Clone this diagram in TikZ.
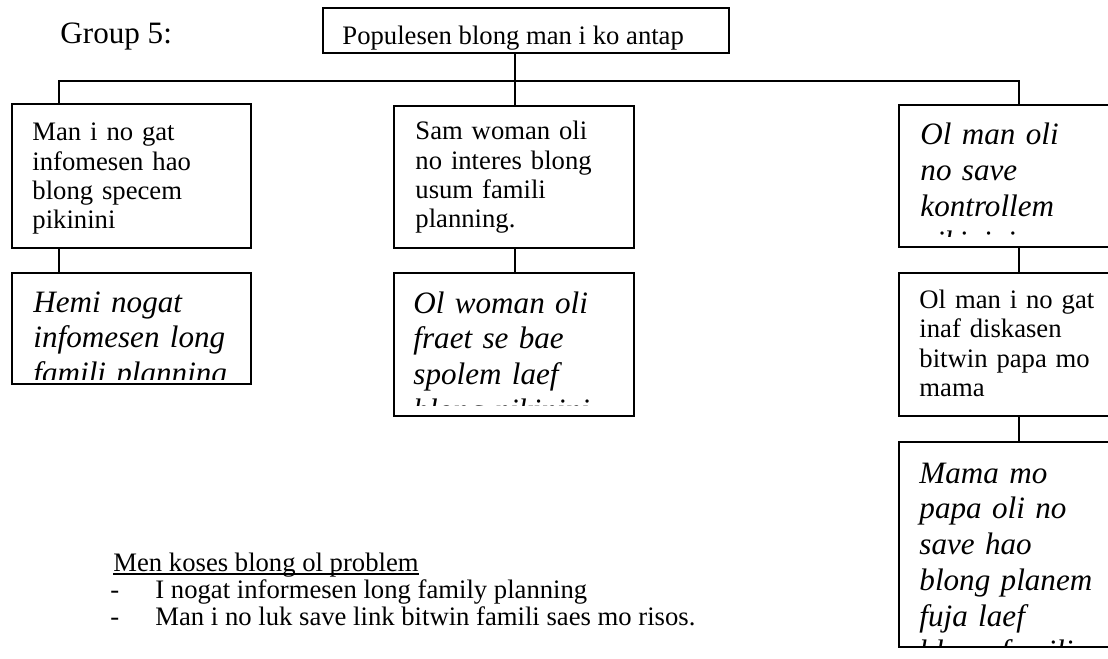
\documentclass[tikz,border=0pt]{standalone}
\usepackage{fontspec}
\setmainfont{Liberation Serif}
\begin{document}
\begin{tikzpicture}[x=0.45pt,y=-0.45pt,
  frame/.style={draw, line width=0.7pt, inner sep=0pt, outer sep=0pt, anchor=north west},
  link/.style={line width=0.7pt},
  plain/.style={anchor=base west, inner sep=0pt, text width=230*0.45pt, align=left,
    font=\fontsize{12}{13.1}\selectfont},
  slant/.style={anchor=base west, inner sep=0pt, text width=230*0.45pt, align=left,
    font=\fontsize{14}{16.1}\selectfont\itshape},
  label/.style={anchor=base west, inner sep=0pt, font=\fontsize{12}{13.1}\selectfont},
]
\useasboundingbox (0,0) rectangle (1108,658);
\clip (0,0) rectangle (1108,658);

% boxes: name, corner, size
\newcommand\tbox[5]{\node[frame, minimum width={(#4-#2)*0.45pt}, minimum height={(#5-#3)*0.45pt}] (#1) at (#2,#3) {};}
\tbox{top}{323}{8}{729}{53}
\tbox{b1}{12}{104}{251}{248}
\tbox{b1b}{12}{273}{251}{384}
\tbox{b2}{394}{106}{634}{248}
\tbox{b2b}{394}{273}{634}{416}
\tbox{b3}{899}{105}{1140}{247}
\tbox{b3b}{899}{273}{1140}{416}
\tbox{b3c}{899}{442}{1140}{647}

% connector lines
\coordinate (h1) at (59,81);
\coordinate (h2) at (515,81);
\coordinate (h3) at (1019,81);
\draw[link] (top.south -| h2) -- (b2.north -| h2);
\draw[link] (b1.north -| h1) -- (h1) -- (h3) -- (b3.north -| h3);
\draw[link] (b1.south -| h1) -- (b1b.north -| h1);
\draw[link] (b2.south -| h2) -- (b2b.north -| h2);
\draw[link] (b3.south -| h3) -- (b3b.north -| h3);
\draw[link] (b3b.south -| h3) -- (b3c.north -| h3);

% title
\node[anchor=base west, inner sep=0pt, font=\fontsize{14}{16}\selectfont] (grp) at (60,44) {Group 5:};

% box texts, each cut off at the inner edge of its box
\begin{scope}
  \clip (324,9) rectangle (728,50);
  \node[label] (ttop) at (342,45) {Populesen blong man i ko antap};
\end{scope}
\node[plain] (t1) at (32,141) {Man i no gat\\infomesen hao\\blong specem\\pikinini};
\begin{scope}
  \clip (13,274) rectangle (250,379);
  \node[slant] (t1b) at (33,312) {Hemi nogat\\infomesen long\\famili planning};
\end{scope}
\node[plain] (t2) at (415,140) {Sam woman oli\\no interes blong\\usum famili\\planning.};
\begin{scope}
  \clip (395,274) rectangle (633,405);
  \node[slant] (t2b) at (413,313) {Ol woman oli\\fraet se bae\\spolem laef\\blong pikinini};
\end{scope}
\begin{scope}
  \clip (900,106) rectangle (1139,236);
  \node[slant] (t3) at (920,145) {Ol man oli\\no save\\kontrollem\\pikinini};
\end{scope}
\node[plain, font=\fontsize{12}{13.3}\selectfont] (t3b) at (919,308) {Ol man i no gat\\inaf diskasen\\bitwin papa mo\\mama};
\begin{scope}
  \clip (900,443) rectangle (1139,645);
  \node[slant] (t3c) at (919,483) {Mama mo\\papa oli no\\save hao\\blong planem\\fuja laef\\blong famili};
\end{scope}

% causes list
\node[label] (cause) at (113,571) {Men koses blong ol problem};
\draw[line width=0.6pt] ([yshift=-1.4pt]cause.base west) -- ([yshift=-1.4pt]cause.base east);
\node[label] (d1) at (110,598) {-};
\node[label] (l1) at (155,598) {I nogat informesen long family planning};
\node[label] (d2) at (110,625) {-};
\node[label] (l2) at (155,625) {Man i no luk save link bitwin famili saes mo risos.};
\end{tikzpicture}
\end{document}
